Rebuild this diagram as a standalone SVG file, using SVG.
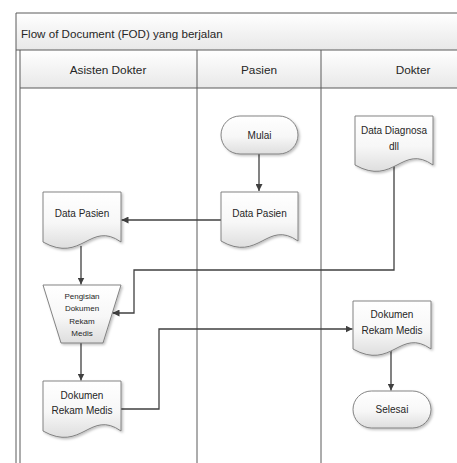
<svg xmlns="http://www.w3.org/2000/svg" width="457" height="463" viewBox="0 0 457 463">
<style>
.lane{fill:none;stroke:#5a5a5a;stroke-width:1}
.hdr{stroke:none}
.shape{fill:url(#sg);stroke:#767676;stroke-width:0.9;filter:url(#sh)}
.conn{fill:none;stroke:#404040;stroke-width:1.3}
text{font-family:"Liberation Sans",Arial,sans-serif;fill:#262626}
.t{font-size:10px;text-anchor:middle}
.s{font-size:8px;text-anchor:middle}
.h{font-size:11.8px;text-anchor:middle}
</style>
<defs>
<linearGradient id="hg" x1="0" y1="0" x2="0" y2="1"><stop offset="0" stop-color="#ffffff"/><stop offset="1" stop-color="#e8e8e8"/></linearGradient>
<linearGradient id="sg" x1="0" y1="0" x2="0" y2="1"><stop offset="0" stop-color="#ffffff"/><stop offset="0.55" stop-color="#f7f7f7"/><stop offset="1" stop-color="#dedede"/></linearGradient>
<filter id="sh" x="-20%" y="-20%" width="140%" height="140%"><feDropShadow dx="1.5" dy="1.5" stdDeviation="1" flood-color="#000" flood-opacity="0.25"/></filter>
<marker id="ah" viewBox="0 0 10 10" refX="10" refY="5" markerWidth="7" markerHeight="7" markerUnits="userSpaceOnUse" orient="auto"><path d="M0,0 L10,5 L0,10 Z" fill="#404040"/></marker>
</defs>
<rect width="457" height="463" fill="#ffffff"/>
<g id="pool">
<rect class="hdr" x="16" y="13" width="450" height="37" fill="url(#hg)"/>
<rect class="hdr" x="20" y="50" width="446" height="38" fill="url(#hg)"/>
<path class="lane" d="M16,463 V13 H466 M16,50 H466 M20,50 V463 M20,88 H466 M197,50 V463 M321,50 V463"/>
<text x="21" y="38" style="font-size:11.6px">Flow of Document (FOD) yang berjalan</text>
<text class="h" x="108" y="74">Asisten Dokter</text>
<text class="h" x="259" y="74">Pasien</text>
<text class="h" x="413" y="74">Dokter</text>
</g>
<g id="connectors">
<path class="conn" d="M259,154 V191" marker-end="url(#ah)"/>
<path class="conn" d="M221,220 H121.5" marker-end="url(#ah)"/>
<path class="conn" d="M81,246 V284.5" marker-end="url(#ah)"/>
<path class="conn" d="M394,166 V270 H134 V313 H112.5" marker-end="url(#ah)"/>
<path class="conn" d="M81,343 V380.5" marker-end="url(#ah)"/>
<path class="conn" d="M121,409 H159 V329 H352.5" marker-end="url(#ah)"/>
<path class="conn" d="M391,350 V390.5" marker-end="url(#ah)"/>
</g>
<g id="mulai">
<rect class="shape" x="221" y="116" width="77" height="38" rx="19" ry="19"/>
<text class="t" x="259.5" y="139">Mulai</text>
</g>
<g id="data-pasien-pasien">
<path class="shape" d="M221,192 H298 V241 C267,219 259,263 221,241 Z"/>
<text class="t" x="259.5" y="217">Data Pasien</text>
</g>
<g id="data-pasien-asisten">
<path class="shape" d="M43,192 H121 V242 C90,220 82,264 43,242 Z"/>
<text class="t" x="82" y="217">Data Pasien</text>
</g>
<g id="data-diagnosa">
<path class="shape" d="M355,116 H433 V165 C402,143 394,187 355,165 Z"/>
<text class="t" x="394" y="134">Data Diagnosa</text>
<text class="t" x="394" y="150">dll</text>
</g>
<g id="pengisian">
<path class="shape" d="M43,285 H121 L103,343 H61 Z"/>
<text class="s" x="82" y="299">Pengisian</text>
<text class="s" x="82" y="311">Dokumen</text>
<text class="s" x="82" y="324">Rekam</text>
<text class="s" x="82" y="336">Medis</text>
</g>
<g id="dokumen-asisten">
<path class="shape" d="M43,381 H121 V431 C90,409 82,453 43,431 Z"/>
<text class="t" x="82" y="399">Dokumen</text>
<text class="t" x="82" y="414">Rekam Medis</text>
</g>
<g id="dokumen-dokter">
<path class="shape" d="M353,301 H431 V349 C400,327 392,371 353,349 Z"/>
<text class="t" x="392" y="318">Dokumen</text>
<text class="t" x="392" y="334">Rekam Medis</text>
</g>
<g id="selesai">
<rect class="shape" x="353" y="391" width="78" height="37" rx="18.5" ry="18.5"/>
<text class="t" x="392" y="413">Selesai</text>
</g>
</svg>
